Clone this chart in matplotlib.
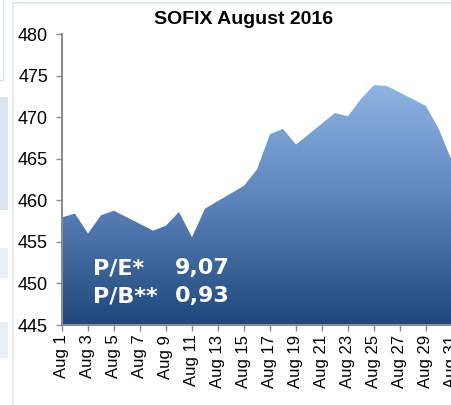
import numpy as np
import matplotlib.pyplot as plt
from matplotlib.patches import PathPatch, Rectangle
from matplotlib.colors import LinearSegmentedColormap

# SOFIX closing values, trading days of August 2016
days = [1, 2, 3, 4, 5, 8, 9, 10, 11, 12, 15, 16, 17, 18, 19, 22, 23, 24, 25, 26, 29, 30, 31]
sofix = [457.95, 458.4, 456.0, 458.2, 458.75, 456.35, 456.95, 458.6, 455.55, 459.0,
         461.75, 463.7, 467.95, 468.6, 466.7, 470.5, 470.1, 472.2, 473.85, 473.75,
         471.35, 468.5, 464.7]

tick_days = [1, 3, 5, 7, 9, 11, 13, 15, 17, 19, 21, 23, 25, 27, 29, 31]
tick_labels = ["Aug 1", "Aug 3", "Aug 5", "Aug 7", "Aug 9", "Aug 11", "Aug 13", "Aug 15",
               "Aug 17", "Aug 19", "Aug 21", "Aug 23", "Aug 25", "Aug 27", "Aug 29", "Aug 31"]
y_ticks = [445, 450, 455, 460, 465, 470, 475, 480]

ratio_names = ["P/E*", "P/B**"]
ratio_values = ["9,07", "0,93"]

W, H = 452, 405
fig = plt.figure(figsize=(W / 100, H / 100), dpi=100)
fig.patch.set_facecolor("white")


def px(x, y):
    """пиксели -> доли фигуры"""
    return x / W, 1 - y / H


# screenshot frame bits
fig.add_artist(plt.Line2D([13 / W, 13 / W], [0, 1 - 3 / H], color="#dde4ee", lw=1.2))
fig.add_artist(plt.Line2D([13 / W, 1], [1 - 3 / H, 1 - 3 / H], color="#dde4ee", lw=1.2))
fig.add_artist(plt.Line2D([3 / W, 3 / W], [1 - 80 / H, 1], color="#dde4ee", lw=1))
fig.add_artist(plt.Line2D([0, 3 / W], [1 - 80 / H, 1 - 80 / H], color="#dde4ee", lw=1))
for y0, y1, c in [(97, 210, "#dbe5f2"), (248, 278, "#e9eff7"), (322, 358, "#e9eff7")]:
    fig.add_artist(Rectangle((0, 1 - y1 / H), 8 / W, (y1 - y0) / H, color=c, lw=0))

ax = fig.add_axes([62 / W, 80 / H, 390 / W, 291 / H])
ax.set_xlim(1, 31)
ax.set_ylim(445, 480)

# gradient area
fill = ax.fill_between(days, sofix, 445, color="none", lw=0)
path = fill.get_paths()[0]
clip = PathPatch(path, transform=ax.transData, facecolor="none", edgecolor="none")
ax.add_patch(clip)
cmap = LinearSegmentedColormap.from_list("sofix", ["#1f477b", "#5a82b8", "#8eb4e3"])
grad = np.linspace(0, 1, 256).reshape(-1, 1)
im = ax.imshow(grad, extent=[1, 31, 445, max(sofix)], origin="lower", aspect="auto",
               cmap=cmap, interpolation="bicubic", zorder=1)
im.set_clip_path(clip)

ax.set_xticks(tick_days)
ax.set_xticklabels(tick_labels, rotation=90, fontsize=12, family="Liberation Sans")
ax.set_yticks(y_ticks)
ax.set_yticklabels([str(v) for v in y_ticks], fontsize=13, family="Liberation Sans")
ax.tick_params(length=4, width=1, color="#8c8c8c")
ax.tick_params(axis="x", pad=3)
ax.tick_params(axis="y", pad=6)
for s in ["top", "right"]:
    ax.spines[s].set_visible(False)
for s in ["left", "bottom"]:
    ax.spines[s].set_color("#8c8c8c")
    ax.spines[s].set_linewidth(1.5)
    ax.spines[s].set_zorder(3)

fig.text(*px(244, 19), "SOFIX August 2016", ha="center", va="center",
         fontsize=14, fontweight="bold", family="Liberation Sans")

for i, (name, val) in enumerate(zip(ratio_names, ratio_values)):
    yb = 274 + i * 28
    fig.text(*px(93, yb), name, ha="left", va="baseline", color="white",
             fontsize=16, fontweight="bold", family="DejaVu Sans")
    fig.text(*px(175, yb), val, ha="left", va="baseline", color="white",
             fontsize=16, fontweight="bold", family="DejaVu Sans")

fig.savefig("out.png", dpi=100)
